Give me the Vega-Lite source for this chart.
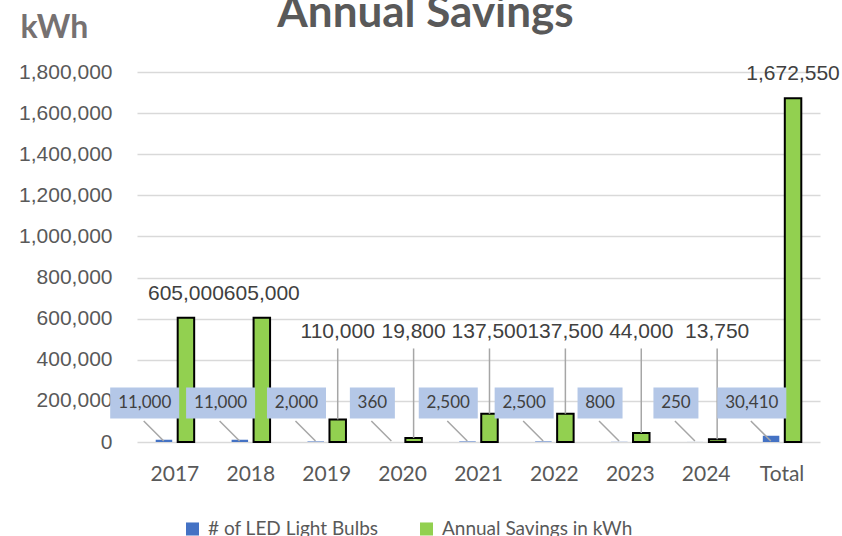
{
  "$schema": "https://vega.github.io/schema/vega-lite/v6.json",
  "width": 683,
  "height": 370,
  "autosize": {"type": "none"},
  "padding": {"left": 137, "top": 72, "right": 22, "bottom": 94},
  "background": "white",
  "title": {"text": "Annual Savings", "font": "Lato", "fontSize": 44, "fontWeight": "bold", "color": "#595959", "anchor": "middle", "frame": "group", "dx": -53, "dy": 60, "baseline": "alphabetic", "offset": 0},
  "data": {"values": [
    {"cat": "2017", "series": "# of LED Light Bulbs", "value": 11000},
    {"cat": "2017", "series": "Annual Savings in kWh", "value": 605000},
    {"cat": "2018", "series": "# of LED Light Bulbs", "value": 11000},
    {"cat": "2018", "series": "Annual Savings in kWh", "value": 605000},
    {"cat": "2019", "series": "# of LED Light Bulbs", "value": 2000},
    {"cat": "2019", "series": "Annual Savings in kWh", "value": 110000},
    {"cat": "2020", "series": "# of LED Light Bulbs", "value": 360},
    {"cat": "2020", "series": "Annual Savings in kWh", "value": 19800},
    {"cat": "2021", "series": "# of LED Light Bulbs", "value": 2500},
    {"cat": "2021", "series": "Annual Savings in kWh", "value": 137500},
    {"cat": "2022", "series": "# of LED Light Bulbs", "value": 2500},
    {"cat": "2022", "series": "Annual Savings in kWh", "value": 137500},
    {"cat": "2023", "series": "# of LED Light Bulbs", "value": 800},
    {"cat": "2023", "series": "Annual Savings in kWh", "value": 44000},
    {"cat": "2024", "series": "# of LED Light Bulbs", "value": 250},
    {"cat": "2024", "series": "Annual Savings in kWh", "value": 13750},
    {"cat": "Total", "series": "# of LED Light Bulbs", "value": 30410},
    {"cat": "Total", "series": "Annual Savings in kWh", "value": 1672550}
  ]},
  "encoding": {
    "x": {"field": "cat", "type": "nominal", "sort": null, "title": null,
      "scale": {"paddingInner": 0.493, "paddingOuter": 0.2465}},
    "xOffset": {"field": "series", "type": "nominal", "sort": ["# of LED Light Bulbs", "Annual Savings in kWh"],
      "scale": {"paddingInner": 0.25, "paddingOuter": 0}}
  },
  "layer": [
    {
      "mark": {"type": "bar", "strokeWidth": 2},
      "encoding": {
        "y": {"field": "value", "type": "quantitative", "title": "kWh",
          "scale": {"domain": [0, 1800000]},
          "axis": {"values": [0, 200000, 400000, 600000, 800000, 1000000, 1200000, 1400000, 1600000, 1800000]}},
        "color": {"field": "series", "type": "nominal", "sort": ["# of LED Light Bulbs", "Annual Savings in kWh"],
          "scale": {"range": ["#4472C4", "#92D050"]},
          "legend": {"title": null, "encode": {"symbols": {
            "stroke": {"condition": {"test": "datum.value === 'Annual Savings in kWh'", "value": "#000000"}, "value": "transparent"},
            "strokeWidth": {"value": 2}}}}},
        "stroke": {"condition": {"test": "datum.series === 'Annual Savings in kWh'", "value": "#000000"}, "value": "transparent"}
      }
    },
    {
      "transform": [
        {"filter": "datum.series === 'Annual Savings in kWh' && datum.value < 400000"},
        {"calculate": "max(datum.value, 420000) + 35000", "as": "ruleTop"}
      ],
      "mark": {"type": "rule", "color": "#A6A6A6", "strokeWidth": 1.5},
      "encoding": {
        "y": {"field": "value", "type": "quantitative", "title": "kWh"},
        "y2": {"field": "ruleTop"}
      }
    },
    {
      "transform": [
        {"filter": "datum.series === 'Annual Savings in kWh'"},
        {"calculate": "max(datum.value, 420000)", "as": "labelY"}
      ],
      "mark": {"type": "text", "font": "Liberation Sans", "fontSize": 21, "color": "#404040", "baseline": "alphabetic", "align": "center", "dy": -18},
      "encoding": {
        "y": {"field": "labelY", "type": "quantitative", "title": "kWh"},
        "text": {"field": "value", "type": "quantitative", "format": ","}
      }
    },
    {
      "transform": [{"filter": "datum.series === '# of LED Light Bulbs'"}],
      "mark": {"type": "point", "shape": "M-1,-1L1,1", "size": 400, "filled": false, "stroke": "#A6A6A6", "strokeWidth": 1.5, "opacity": 1, "yOffset": -11},
      "encoding": {
        "xOffset": {"value": -2},
        "y": {"datum": 0, "type": "quantitative", "title": "kWh"}
      }
    },
    {
      "transform": [
        {"filter": "datum.series === '# of LED Light Bulbs'"},
        {"calculate": "length(format(datum.value, ','))", "as": "len"}
      ],
      "mark": {"type": "point", "size": 4900, "filled": true, "fill": "#B4C7E7", "strokeWidth": 0, "opacity": 1, "yOffset": -39},
      "encoding": {
        "xOffset": {"value": -11},
        "y": {"datum": 0, "type": "quantitative", "title": "kWh"},
        "shape": {"field": "len", "type": "ordinal", "legend": null,
          "scale": {"domain": [3, 5, 6], "range": ["M-0.643,-0.443L0.643,-0.443L0.643,0.443L-0.643,0.443Z", "M-0.843,-0.443L0.843,-0.443L0.843,0.443L-0.843,0.443Z", "M-0.986,-0.443L0.986,-0.443L0.986,0.443L-0.986,0.443Z"]}}
      }
    },
    {
      "transform": [{"filter": "datum.series === '# of LED Light Bulbs'"}],
      "mark": {"type": "text", "font": "Lato", "fontSize": 17, "color": "#404040", "baseline": "middle", "align": "center", "yOffset": -39},
      "encoding": {
        "xOffset": {"value": -11},
        "y": {"datum": 0, "type": "quantitative", "title": "kWh"},
        "text": {"field": "value", "type": "quantitative", "format": ","}
      }
    }
  ],
  "config": {
    "font": "Lato",
    "view": {"stroke": null},
    "axis": {"labelColor": "#595959", "domain": false, "ticks": false, "grid": false},
    "axisY": {"grid": true, "gridColor": "#D9D9D9", "gridWidth": 1.5, "labelFont": "Liberation Sans", "labelFontSize": 21, "labelPadding": 25,
      "labelExpr": "format(datum.value, ',')",
      "titleAngle": 0, "titleX": -117, "titleY": -35, "titleAlign": "left", "titleBaseline": "alphabetic",
      "titleFont": "Lato", "titleFontSize": 32, "titleFontWeight": "bold", "titleColor": "#767171"},
    "axisX": {"labelFont": "Lato", "labelFontSize": 21, "labelPadding": 38, "labelBaseline": "alphabetic", "labelAngle": 0},
    "legend": {"orient": "none", "legendX": 46, "legendY": 447, "direction": "horizontal", "labelFont": "Lato", "labelFontSize": 19, "labelColor": "#595959", "labelLimit": 400,
      "symbolType": "square", "symbolSize": 170, "symbolStrokeWidth": 2, "columnPadding": 36, "labelOffset": 6, "padding": 0}
  }
}
